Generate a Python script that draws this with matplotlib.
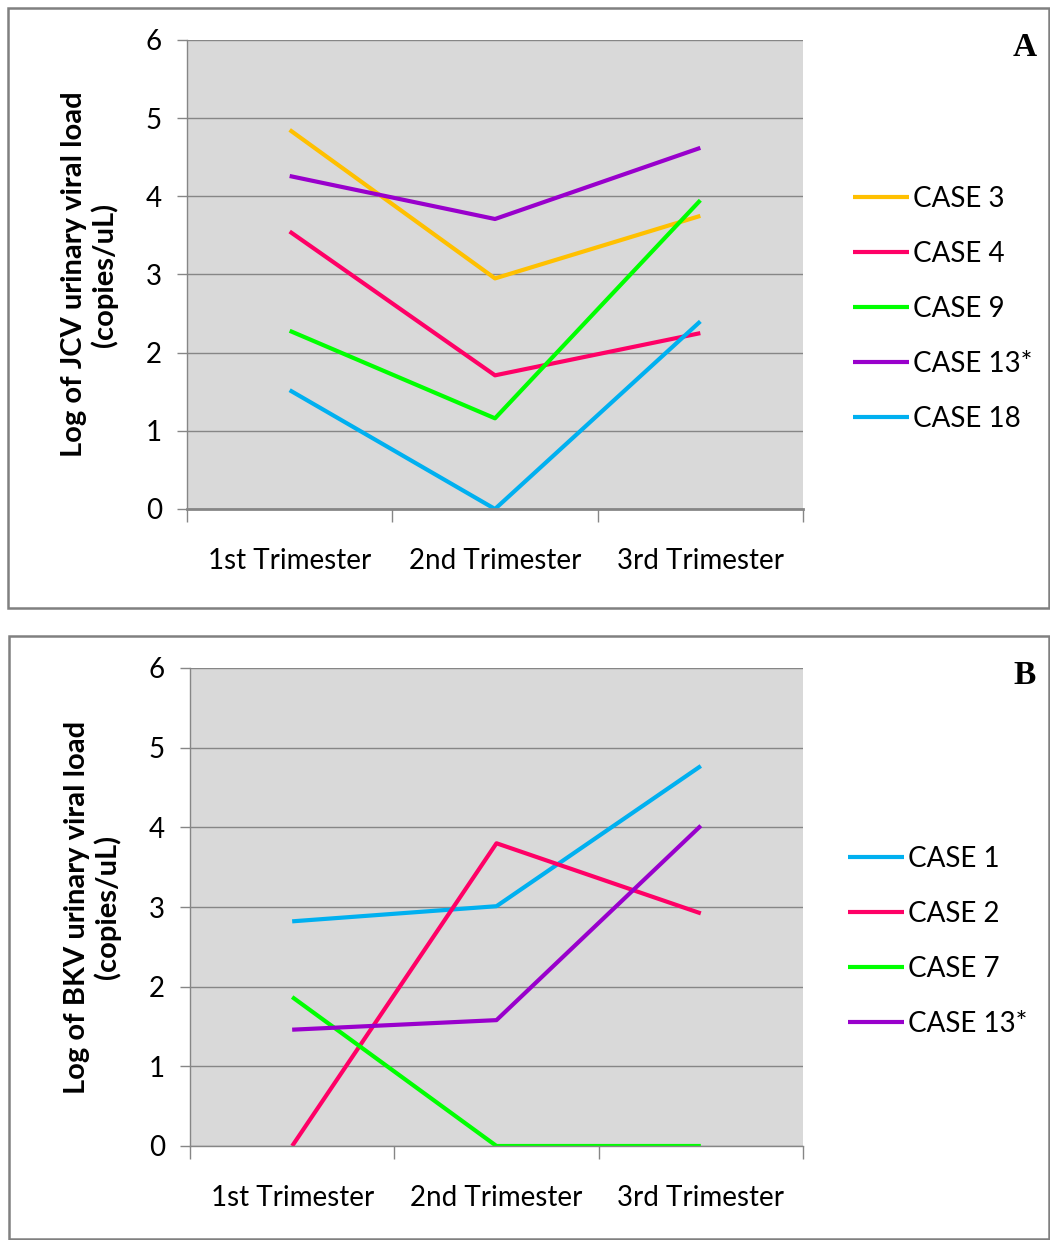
import matplotlib.pyplot as plt
from matplotlib.patches import Rectangle

plt.rcParams['font.family'] = ['Lato', 'DejaVu Sans']

trimesters = ['1st Trimester', '2nd Trimester', '3rd Trimester']

# Panel A - JCV
jcv_cases = ['CASE 3', 'CASE 4', 'CASE 9', 'CASE 13*', 'CASE 18']
jcv_case3 = [4.85, 2.95, 3.75]
jcv_case4 = [3.55, 1.71, 2.25]
jcv_case9 = [2.28, 1.16, 3.95]
jcv_case13 = [4.26, 3.71, 4.62]
jcv_case18 = [1.52, 0.0, 2.40]
jcv_colors = ['#FFC000', '#FF0066', '#00FF00', '#9900CC', '#00B0F0']

# Panel B - BKV
bkv_cases = ['CASE 1', 'CASE 2', 'CASE 7', 'CASE 13*']
bkv_case1 = [2.82, 3.01, 4.77]
bkv_case2 = [0.0, 3.80, 2.92]
bkv_case7 = [1.87, 0.0, 0.0]
bkv_case13 = [1.46, 1.58, 4.02]
bkv_colors = ['#00B0F0', '#FF0066', '#00FF00', '#9900CC']

W, H = 1050, 1240
fig = plt.figure(figsize=(W / 100, H / 100), dpi=100)

# panel frames
for (x0, y0, x1, y1) in [(8, 8, 1049, 608), (9, 636, 1049, 1239)]:
    fig.patches.append(Rectangle((x0 / W, 1 - y1 / H), (x1 - x0) / W, (y1 - y0) / H,
                                 transform=fig.transFigure, fill=False,
                                 edgecolor='#808080', linewidth=1.8))


def make_panel(rect, series, names, colors, ylabel, letter, letter_y, leg_y, leg_x, bottom_lw):
    ax = fig.add_axes(rect)
    ax.set_facecolor('#D9D9D9')
    x = range(len(trimesters))
    for vals, name, c in zip(series, names, colors):
        ax.plot(x, vals, color=c, lw=3, label=name, solid_capstyle='butt')
    ax.set_xlim(-0.5, 2.5)
    ax.set_ylim(0, 6)
    ax.set_yticks(range(7))
    ax.yaxis.grid(True, color='#868686', lw=1)
    ax.set_axisbelow(True)
    for s in ['top', 'right']:
        ax.spines[s].set_visible(False)
    ax.spines['left'].set_color('#868686')
    ax.spines['left'].set_linewidth(1)
    ax.spines['bottom'].set_color('#868686')
    ax.spines['bottom'].set_linewidth(bottom_lw)
    ax.set_xticks(list(x))
    ax.set_xticklabels(trimesters, fontsize=20)
    ax.set_xticks([-0.5, 0.5, 1.5, 2.5], minor=True)
    ax.tick_params(axis='x', which='major', length=0, pad=28)
    ax.tick_params(axis='x', which='minor', length=9, color='#868686', width=1)
    ax.tick_params(axis='y', length=7, color='#868686', width=1, pad=11, labelsize=20)
    ax.set_ylabel(ylabel, fontsize=21, fontweight='bold', labelpad=20, linespacing=1.15)
    fig.text(1025 / W, 1 - letter_y / H, letter, fontsize=24, fontweight='bold',
             family='Liberation Serif', ha='center', va='center')
    ax.legend(loc='upper left', bbox_to_anchor=(leg_x / W, 1 - leg_y / H),
              bbox_transform=fig.transFigure, frameon=False, fontsize=20,
              handlelength=2.0, handletextpad=0.15, labelspacing=1.04,
              borderaxespad=0, borderpad=0)
    return ax


make_panel([187 / W, 1 - 509 / H, (803 - 187) / W, (509 - 40) / H],
           [jcv_case3, jcv_case4, jcv_case9, jcv_case13, jcv_case18],
           jcv_cases, jcv_colors,
           'Log of JCV urinary viral load\n(copies/uL)', 'A', 48, 186, 853, 2)

make_panel([190 / W, 1 - 1146 / H, (803 - 190) / W, (1146 - 668) / H],
           [bkv_case1, bkv_case2, bkv_case7, bkv_case13],
           bkv_cases, bkv_colors,
           'Log of BKV urinary viral load\n(copies/uL)', 'B', 676, 846, 848, 1)

fig.savefig('out.png', dpi=100)
